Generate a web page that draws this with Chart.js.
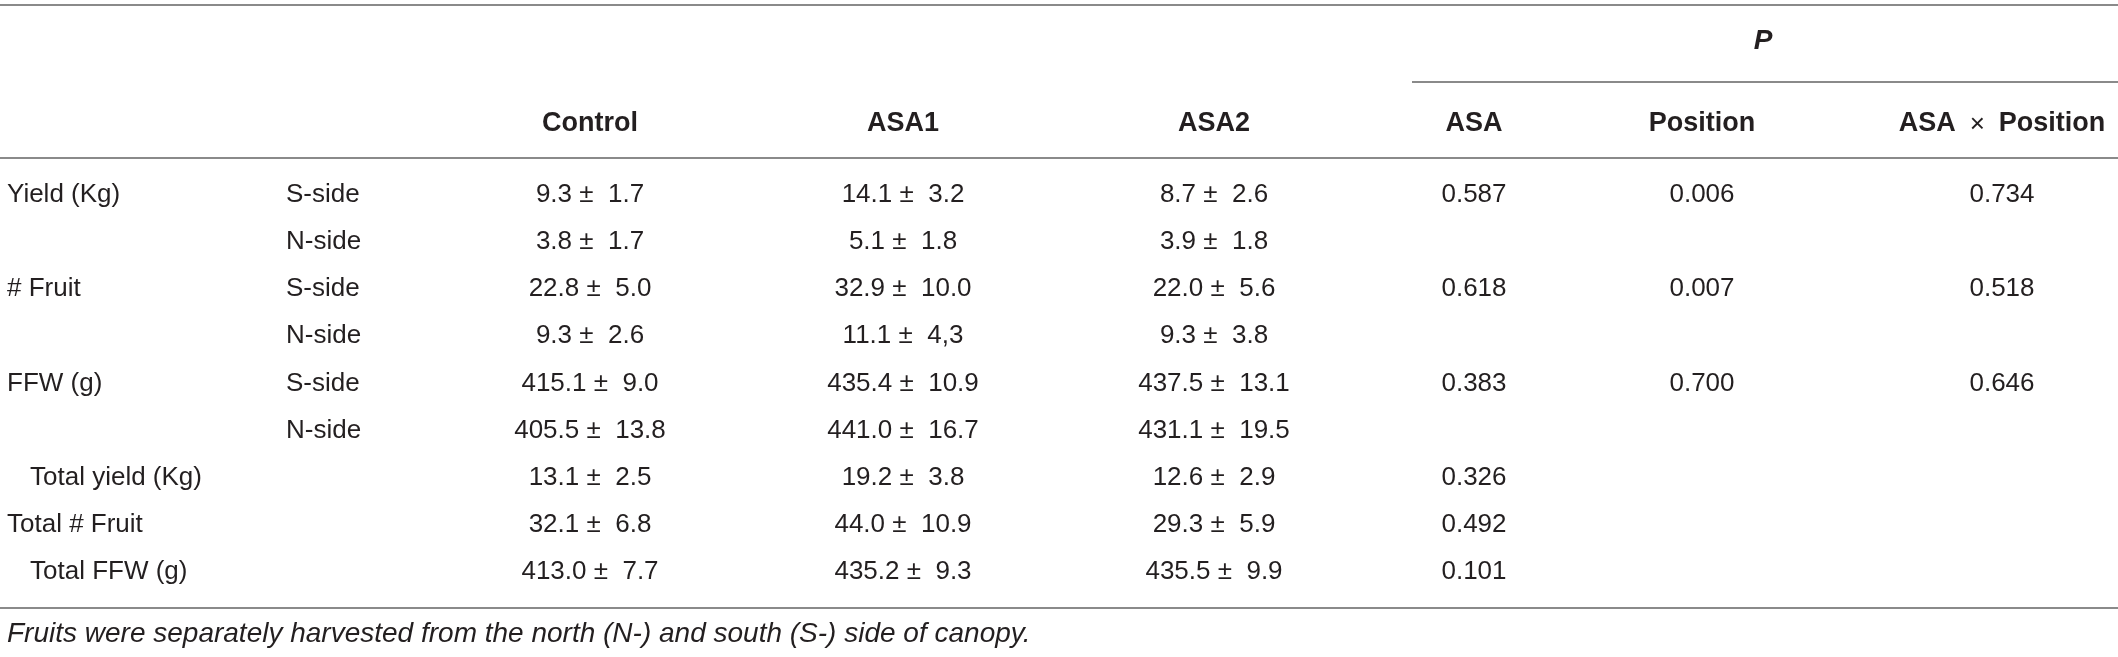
<!DOCTYPE html>
<html><head><meta charset="utf-8">
<script src="https://cdn.jsdelivr.net/npm/chart.js@4.4.1/dist/chart.umd.min.js"></script>
<style>html,body{margin:0;padding:0;background:#fff;}#wrap{width:2118px;height:657px;position:relative;}canvas{display:block;}</style>
</head><body><div id="wrap"><canvas id="c" width="2118" height="657" style="width:2118px;height:657px"></canvas></div>
<script>
// ---- data ----
const rowLabels = ['Yield (Kg)','','# Fruit','','FFW (g)','','Total yield (Kg)','Total # Fruit','Total FFW (g)'];
const rowIndent = [0,0,0,0,0,0,1,0,1];
const sides = ['S-side','N-side','S-side','N-side','S-side','N-side','','',''];
const treatments = ['Control','ASA1','ASA2'];
const pHeaders = ['ASA','Position','ASA \u00d7 Position'];
const pGroupLabel = 'P';
const controlMean = [9.3,3.8,22.8,9.3,415.1,405.5,13.1,32.1,413.0];
const controlSD = ['1.7','1.7','5.0','2.6','9.0','13.8','2.5','6.8','7.7'];
const asa1Mean = [14.1,5.1,32.9,11.1,435.4,441.0,19.2,44.0,435.2];
const asa1SD = ['3.2','1.8','10.0','4,3','10.9','16.7','3.8','10.9','9.3'];
const asa2Mean = [8.7,3.9,22.0,9.3,437.5,431.1,12.6,29.3,435.5];
const asa2SD = ['2.6','1.8','5.6','3.8','13.1','19.5','2.9','5.9','9.9'];
const pASA = [0.587,null,0.618,null,0.383,null,0.326,0.492,0.101];
const pPosition = [0.006,null,0.007,null,0.700,null,null,null,null];
const pInteraction = [0.734,null,0.518,null,0.646,null,null,null,null];
const footnote = 'Fruits were separately harvested from the north (N-) and south (S-) side of canopy.';

// ---- layout (table units) ----
const L = {
  width: 2118, rowTop: 195, rowStep: 47.1, height: 657,
  labelX: 7, indentX: 30, sideX: 286,
  colCenters: [590, 903, 1214, 1474, 1702, 2002],
  pLineStart: 1412, pX: 1763,
  rowPos: { top: -4.03, p: -3.26, pLine: -2.4, head: -1.52, headLine: -0.79, bottom: 8.76, note: 9.33 }
};
const FONT = '"Liberation Sans", Arial, Helvetica, sans-serif';
const TEXT = '#231f20';
const RULE = '#8a8a8a';
const BOLD = 'bold 27px ' + FONT;

const meanCols = [controlMean, asa1Mean, asa2Mean];
const sdCols = [controlSD, asa1SD, asa2SD];
const pCols = [pASA, pPosition, pInteraction];

const datasets = [];
meanCols.forEach((arr, c) => datasets.push({
  label: treatments[c],
  data: arr.map((v, r) => ({x: L.colCenters[c], y: r, t: v.toFixed(1) + ' \u00b1  ' + sdCols[c][r]})),
  pointRadius: 0, showLine: false
}));
pCols.forEach((arr, c) => datasets.push({
  label: pHeaders[c],
  data: arr.map((v, r) => v === null ? null : ({x: L.colCenters[3 + c], y: r, t: v.toFixed(3)})).filter(d => d),
  pointRadius: 0, showLine: false
}));

const tablePlugin = {
  id: 'tableDraw',
  afterDatasetsDraw(chart) {
    const ctx = chart.ctx, xs = chart.scales.x, ys = chart.scales.y;
    const X = v => xs.getPixelForValue(v), Y = v => ys.getPixelForValue(v);
    ctx.save();
    ctx.strokeStyle = RULE; ctx.lineWidth = 2;
    const rule = (x0, x1, yv) => { const y = Math.round(Y(yv)); ctx.beginPath(); ctx.moveTo(X(x0), y); ctx.lineTo(X(x1), y); ctx.stroke(); };
    rule(0, L.width, L.rowPos.top);
    rule(L.pLineStart, L.width, L.rowPos.pLine);
    rule(0, L.width, L.rowPos.headLine);
    rule(0, L.width, L.rowPos.bottom);
    ctx.fillStyle = TEXT; ctx.textBaseline = 'middle';
    ctx.textAlign = 'center';
    ctx.font = 'italic bold 28px ' + FONT;
    ctx.fillText(pGroupLabel, X(L.pX), Y(L.rowPos.p));
    ctx.font = BOLD;
    treatments.forEach((t, i) => ctx.fillText(t, X(L.colCenters[i]), Y(L.rowPos.head)));
    pHeaders.forEach((t, i) => {
      const cx = X(L.colCenters[3 + i]), cy = Y(L.rowPos.head);
      if (t.indexOf('\u00d7') < 0) { ctx.font = BOLD; ctx.textAlign = 'center'; ctx.fillText(t, cx, cy); return; }
      const parts = t.split('\u00d7');
      const a = parts[0].trim(), b = parts[1].trim();
      const gap = 14;
      ctx.font = BOLD; const wa = ctx.measureText(a).width, wb = ctx.measureText(b).width;
      ctx.font = '26px ' + FONT; const wx = ctx.measureText('\u00d7').width;
      const x0 = cx - (wa + wx + wb + 2 * gap) / 2;
      ctx.textAlign = 'left';
      ctx.font = BOLD; ctx.fillText(a, x0, cy);
      ctx.font = '26px ' + FONT; ctx.fillText('\u00d7', x0 + wa + gap, cy + 1);
      ctx.font = BOLD; ctx.fillText(b, x0 + wa + wx + 2 * gap, cy);
    });
    ctx.font = '26px ' + FONT;
    ctx.textAlign = 'left';
    rowLabels.forEach((t, r) => { if (t) ctx.fillText(t, X(rowIndent[r] ? L.indentX : L.labelX), Y(r)); });
    sides.forEach((t, r) => { if (t) ctx.fillText(t, X(L.sideX), Y(r)); });
    ctx.textAlign = 'center';
    chart.data.datasets.forEach((ds, di) => {
      const meta = chart.getDatasetMeta(di);
      meta.data.forEach((el, i) => { ctx.fillText(ds.data[i].t, el.x, el.y); });
    });
    ctx.textAlign = 'left';
    ctx.font = 'italic 28px ' + FONT;
    ctx.fillText(footnote, X(L.labelX), Y(L.rowPos.note));
    ctx.restore();
  }
};

new Chart(document.getElementById('c'), {
  type: 'scatter',
  data: { datasets },
  options: {
    responsive: false, maintainAspectRatio: false, animation: false, devicePixelRatio: 1,
    layout: { padding: 0 },
    plugins: { legend: { display: false }, tooltip: { enabled: false } },
    scales: {
      x: { type: 'linear', min: 0, max: L.width, display: false },
      y: { type: 'linear', reverse: true, display: false,
           min: -L.rowTop / L.rowStep, max: (L.height - L.rowTop) / L.rowStep }
    }
  },
  plugins: [tablePlugin]
});
</script>
</body></html>
